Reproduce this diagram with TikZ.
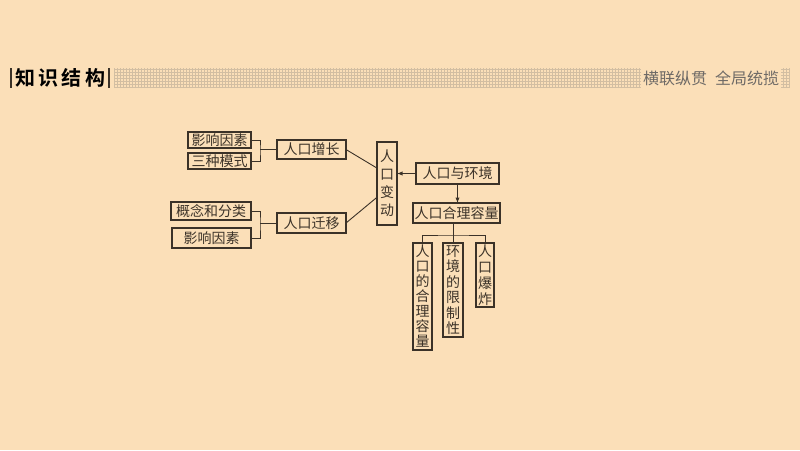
\documentclass[tikz,border=0pt]{standalone}
\usepackage{fontspec}
\newfontfamily\cjk{Noto Sans CJK SC}
\newfontfamily\cjkb{Noto Sans CJK SC Bold}
\usepackage{tikz}
\definecolor{bg}{HTML}{FBDFB8}
\definecolor{ink}{HTML}{3B3228}
\definecolor{gridc}{HTML}{D2BEA2}
\definecolor{motto}{HTML}{6E6A66}

\begin{document}
\begin{tikzpicture}[x=1pt,y=-1pt]
\tikzset{ >=latex, inner sep=0pt, outer sep=0pt,
  box/.style={draw=ink, line width=1.1pt, text=ink, font=\cjk\fontsize{14}{15}\selectfont},
  vbox/.style={box, align=center},
  link/.style={draw=ink, line width=0.9pt},
}
\useasboundingbox (0,0) rectangle (800,450);
\fill [bg] (0,0) rectangle (800,450);

% titulo
\draw [ink, line width=1.8pt] (11,68) -- (11,88);
\node [font=\cjkb\fontsize{20}{20}\selectfont, text=black] (title) at (60,78) {知\,识\,结\,构};
\draw [ink, line width=1.8pt] (109,68) -- (109,88);
\draw [gridc, line width=0.35pt, step=3pt] (114,68) grid (789,88);
\node [fill=bg, inner sep=2pt, text=motto, font=\cjk\fontsize{16}{16}\selectfont] (motto) at (711,78) {横联纵贯\hspace{8pt}全局统揽};

% caixas
\node [box, minimum width=63, minimum height=16] (yx1) at (219.5,140) {影响因素};
\node [box, minimum width=63, minimum height=16] (sz)  at (219.5,161) {三种模式};
\node [box, minimum width=69, minimum height=19] (zz)  at (311.5,149.5) {人口增长};
\node [box, minimum width=80, minimum height=18] (gn)  at (211,211) {概念和分类};
\node [box, minimum width=79, minimum height=20] (yx2) at (211.5,238) {影响因素};
\node [box, minimum width=69, minimum height=20] (qy)  at (311.5,223) {人口迁移};

\node [vbox, minimum width=20, minimum height=83, font=\cjk\fontsize{14}{18}\selectfont] (bd) at (387,183.5) {人\\口\\变\\动};
\node [box, minimum width=83, minimum height=21] (hj) at (457.5,173.5) {人口与环境};
\node [box, minimum width=87, minimum height=20] (rl) at (456.5,213) {人口合理容量};

\node [vbox, minimum width=19, minimum height=107] (v1) at (422.5,296.5) {人\\口\\的\\合\\理\\容\\量};
\node [vbox, minimum width=20, minimum height=94, font=\cjk\fontsize{14}{15.5}\selectfont] (v2) at (453,290) {环\\境\\的\\限\\制\\性};
\node [vbox, minimum width=18, minimum height=64, font=\cjk\fontsize{14}{16}\selectfont] (v3) at (485,275) {人\\口\\爆\\炸};

% ligacoes
\coordinate (b1) at (260,149.5);
\coordinate (b2) at (260,223);
\coordinate (t)  at (453,235);
\draw [link] (yx1.east) -| (b1) |- (sz.east);
\draw [link] (b1) -- (zz.west);
\draw [link] (gn.east) -| (b2) |- (yx2.east);
\draw [link] (b2) -- (qy.west);
\draw [link] (zz.east) -- (bd.123);
\draw [link] (qy.east) -- (bd.234);
\draw [link, ->] (hj.west) -- (hj.west -| bd.east);
\draw [link, ->] (hj.south) -- (hj.south |- rl.north);
\draw [link] (rl.south -| v2.north) -- (v2.north);
\draw [link] (v1.north) |- (t) -| (v3.north);

\end{tikzpicture}
\end{document}
